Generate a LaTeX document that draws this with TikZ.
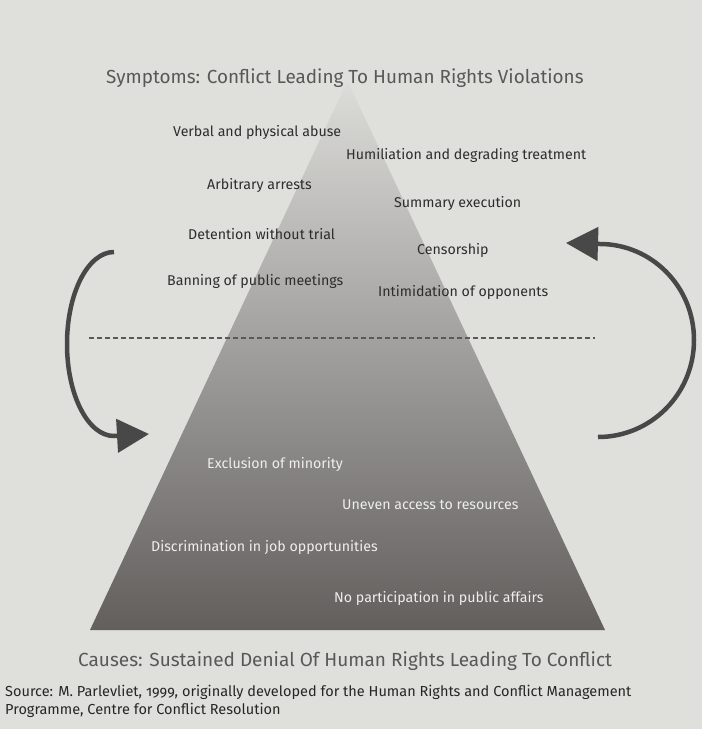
\documentclass[tikz,border=0pt]{standalone}
\usepackage{fontspec}
\setmainfont{Fira Sans}[Numbers=OldStyle]
\usetikzlibrary{arrows.meta}
\definecolor{bg}{RGB}{223,223,219}
\definecolor{pyrtop}{RGB}{220,220,217}
\definecolor{pyrbot}{RGB}{98,95,93}
\definecolor{headtxt}{RGB}{88,88,88}
\definecolor{toptxt}{RGB}{45,45,45}
\definecolor{bottxt}{RGB}{238,238,238}
\definecolor{arrowcol}{RGB}{72,72,72}
\tikzset{
  x=1pt, y=-1pt,
  heading/.style={anchor=west, inner sep=0pt, text=headtxt, font=\fontsize{18.9}{21}\selectfont},
  symptom/.style={anchor=west, inner sep=0pt, text=toptxt, font=\fontsize{14.2}{16}\selectfont},
  cause/.style={anchor=west, inner sep=0pt, text=bottxt, font=\fontsize{14.2}{16}\selectfont},
  source/.style={anchor=west, inner sep=0pt, text=black!85, font=\fontsize{14.5}{16}\selectfont},
  cyclearrow/.style={draw=arrowcol, line width=4.5pt, -{Triangle[length=32pt,width=33pt]}}
}
\begin{document}
\begin{tikzpicture}
\path[use as bounding box, fill=bg] (0,0) rectangle (702,729);
% pyramid
\coordinate (apex) at (347.5,81);
\coordinate (bl) at (90,630);
\coordinate (br) at (605,630);
\shade[top color=pyrtop, bottom color=pyrbot] (apex) -- (br) -- (bl) -- cycle;
% dashed divider
\coordinate (dl) at (89,338);
\coordinate (dr) at (595,338);
\draw[draw=black!65, line width=1.1pt, dash pattern=on 5pt off 3pt] (dl) -- (dr);
% headings
\node[heading] (title) at (106,78) {Symptoms: Conflict Leading To Human Rights Violations};
\node[heading, font=\fontsize{19}{21}\selectfont] (causes) at (78,661) {Causes: Sustained Denial Of Human Rights Leading To Conflict};
% symptoms
\node[symptom] (s1) at (173,132) {Verbal and physical abuse};
\node[symptom] (s2) at (346,155) {Humiliation and degrading treatment};
\node[symptom] (s3) at (207,185) {Arbitrary arrests};
\node[symptom] (s4) at (394,203) {Summary execution};
\node[symptom] (s5) at (188,234) {Detention without trial};
\node[symptom] (s6) at (417,250) {Censorship};
\node[symptom] (s7) at (167,281) {Banning of public meetings};
\node[symptom] (s8) at (378,292) {Intimidation of opponents};
% causes
\node[cause] (c1) at (207,464) {Exclusion of minority};
\node[cause] (c2) at (342,505) {Uneven access to resources};
\node[cause] (c3) at (151,547) {Discrimination in job opportunities};
\node[cause] (c4) at (334,598) {No participation in public affairs};
% source
\node[source] (src1) at (5,692) {Source: M. Parlevliet, 1999, originally developed for the Human Rights and Conflict Management};
\node[source] (src2) at (5,710) {Programme, Centre for Conflict Resolution};
% cycle arrows
\coordinate (lstart) at (114,252);
\coordinate (lleft) at (67,344);
\coordinate (lend) at (114,436);
\coordinate (ltip) at (149,434);
\draw[cyclearrow] (lstart) .. controls (88,252) and (67,293) .. (lleft)
  .. controls (67,395) and (88,436) .. (lend) -- (ltip);
\coordinate (rstart) at (598,437);
\coordinate (rright) at (694,340);
\coordinate (rend) at (600,244);
\coordinate (rtip) at (566,243);
\draw[cyclearrow] (rstart) .. controls (651,437) and (694,394) .. (rright)
  .. controls (694,286) and (651,244) .. (rend) -- (rtip);
\end{tikzpicture}
\end{document}
